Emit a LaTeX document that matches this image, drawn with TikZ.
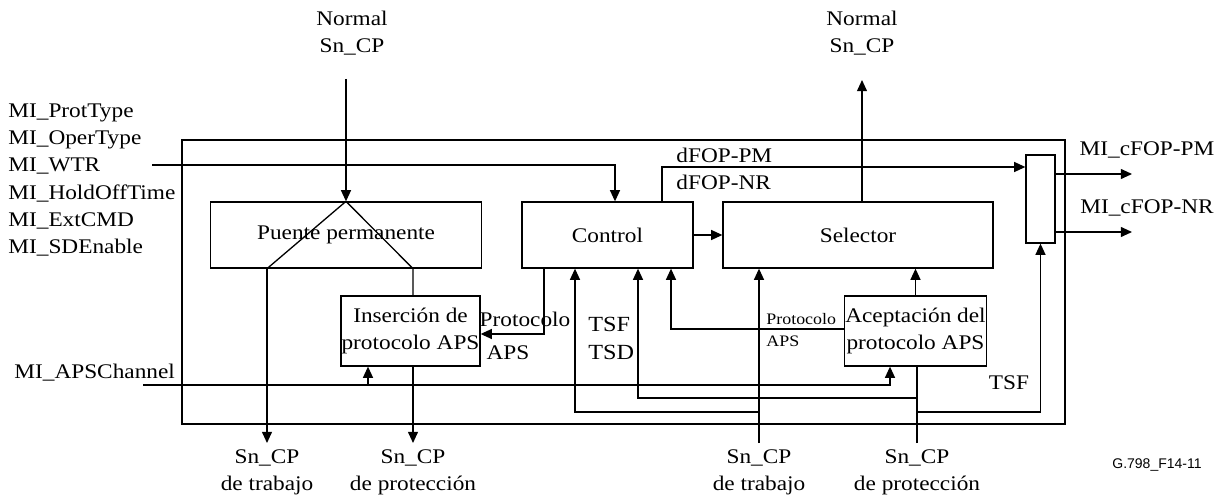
\documentclass[tikz,border=0pt]{standalone}
\usepackage{fontspec}
\setmainfont{Liberation Serif}[FakeStretch=1.12]
\newfontfamily\figsans{Liberation Sans}
\usetikzlibrary{arrows.meta,positioning}
\tikzset{
	blk/.style={rectangle, draw, line width=0.65pt, inner sep=0.3pt, align=center,
		font=\fontsize{10.4}{13.5}\selectfont},
	sig/.style={line width=0.65pt},
	sigarr/.style={sig, -{Triangle[length=5.6pt,width=5pt]}},
	lbl/.style={inner sep=0pt, align=center, font=\fontsize{10.4}{13.5}\selectfont},
	smalllbl/.style={inner sep=0pt, align=left, font=\fontsize{8}{11}\selectfont}
}

\begin{document}
\begin{tikzpicture}[x=0.5pt, y=-0.5pt]
	\useasboundingbox (0,0) rectangle (1227,502);
	% outer frame and blocks
	\node[draw, line width=0.65pt, minimum width=441.5pt, minimum height=142pt, inner sep=0pt] (fb) at (623.5,282) {};
	\node[blk, minimum width=135.5pt, minimum height=33pt] (puente) at (346,235) {Puente permanente};
	\node[blk, minimum width=85.5pt, minimum height=33pt] (control) at (607.5,235) {Control};
	\node[blk, minimum width=135pt, minimum height=33pt] (selector) at (858,235) {Selector};
	\node[blk, minimum width=69.5pt, minimum height=35pt] (insercion) at (410.5,331) {Inserción de\\protocolo APS};
	\node[blk, minimum width=69.5pt, minimum height=35pt] (aceptacion) at (915.5,331) {Aceptación del\\protocolo APS};
	\node[blk, minimum width=14.5pt, minimum height=44pt, inner sep=0pt] (merge) at (1040.5,199) {};

	% free ends
	\coordinate (normin) at (346,79);
	\coordinate (normout) at (862,80);
	\coordinate (wtrin) at (152,165);
	\coordinate (apsin) at (143,385);
	\coordinate (outtrab) at (267,443);
	\coordinate (outprot) at (413,443);
	\coordinate (intrab) at (759,443);
	\coordinate (inprot) at (917,443);
	\coordinate (cfoppm) at (1132,174);
	\coordinate (cfopnr) at (1132,232);

	% texts
	\node[lbl] (normintxt) at (352,33) {Normal\\Sn\_CP};
	\node[lbl] (normouttxt) at (862,33) {Normal\\Sn\_CP};
	\node[lbl, align=left, anchor=west, font=\fontsize{10.4}{13.6}\selectfont] (mi) at (8,180)
		{MI\_ProtType\\MI\_OperType\\MI\_WTR\\MI\_HoldOffTime\\MI\_ExtCMD\\MI\_SDEnable};
	\node[lbl, anchor=west] (apsch) at (14,373) {MI\_APSChannel};
	\node[lbl, below=3pt of outtrab] (outtrabtxt) {Sn\_CP\\de trabajo};
	\node[lbl, below=3pt of outprot] (outprottxt) {Sn\_CP\\de protección};
	\node[lbl, below=3pt of intrab] (intrabtxt) {Sn\_CP\\de trabajo};
	\node[lbl, below=3pt of inprot] (inprottxt) {Sn\_CP\\de protección};
	\node[lbl] (protins) at (525,319) {Protocolo};
	\node[lbl] (apsins) at (508,353) {APS};
	\node[smalllbl, anchor=west] (protacc) at (766,330) {Protocolo\\APS};
	\node[lbl, align=left, anchor=west, font=\fontsize{10.8}{14}\selectfont] (tsftsd) at (588,338) {TSF\\TSD};
	\node[lbl] (tsf) at (1009,383) {TSF};
	\node[lbl, anchor=west] (dfoppm) at (676,155) {dFOP-PM};
	\node[lbl, anchor=west] (dfopnr) at (676,182) {dFOP-NR};
	\node[lbl] (cfoppmtxt) at (1147,150) {MI\_cFOP-PM};
	\node[lbl] (cfopnrtxt) at (1147,208) {MI\_cFOP-NR};
	\node[lbl, font=\figsans\fontsize{7}{8}\selectfont] (figid) at (1157,465) {G.798\_F14-11};

	% permanent bridge
	\draw[sigarr] (normin) -- (puente.north);
	\draw[sig] (puente.north) -- (outtrab |- puente.south);
	\draw[sig] (puente.north) -- (outprot |- puente.south) -- (outprot |- insercion.north);
	\draw[sigarr] (outtrab |- puente.south) -- (outtrab);
	\draw[sigarr] (outprot |- insercion.south) -- (outprot);

	% control
	\draw[sigarr] (wtrin) -| ([xshift=3.75pt]control.north);
	\draw[sigarr] ([xshift=-31.75pt]control.south) |- ([yshift=-1.5pt]insercion.east);
	\draw[sigarr] (control) -- (selector);
	\draw[sigarr] ([xshift=27.25pt]control.north) |- ([yshift=16pt]merge.west);

	% selector and acceptance
	\draw[sigarr] (normout |- selector.north) -- (normout);
	\draw[sigarr] (aceptacion.north) -- (aceptacion.north |- selector.south);
	\draw[sigarr] ([yshift=1pt]aceptacion.west) -| ([xshift=31.75pt]control.south);

	% working and protection inputs
	\draw[sigarr] (intrab) -- (intrab |- selector.south);
	\draw[sigarr] ([yshift=15.5pt]intrab) -| ([xshift=-16.25pt]control.south);
	\draw[sig] (inprot) -- (inprot |- aceptacion.south);
	\draw[sigarr] ([yshift=22.5pt]inprot) -| ([xshift=15.25pt]control.south);
	\draw[sigarr] ([yshift=15.5pt]inprot) -| (merge.south);

	% APS channel
	\draw[sigarr] (apsin) -| ([xshift=-12.75pt]aceptacion.south);
	\draw[sigarr] ([xshift=-21.25pt]insercion.south |- apsin) -- ([xshift=-21.25pt]insercion.south);

	% outputs
	\draw[sigarr] (merge.east |- cfoppm) -- (cfoppm);
	\draw[sigarr] (merge.east |- cfopnr) -- (cfopnr);
\end{tikzpicture}
\end{document}
